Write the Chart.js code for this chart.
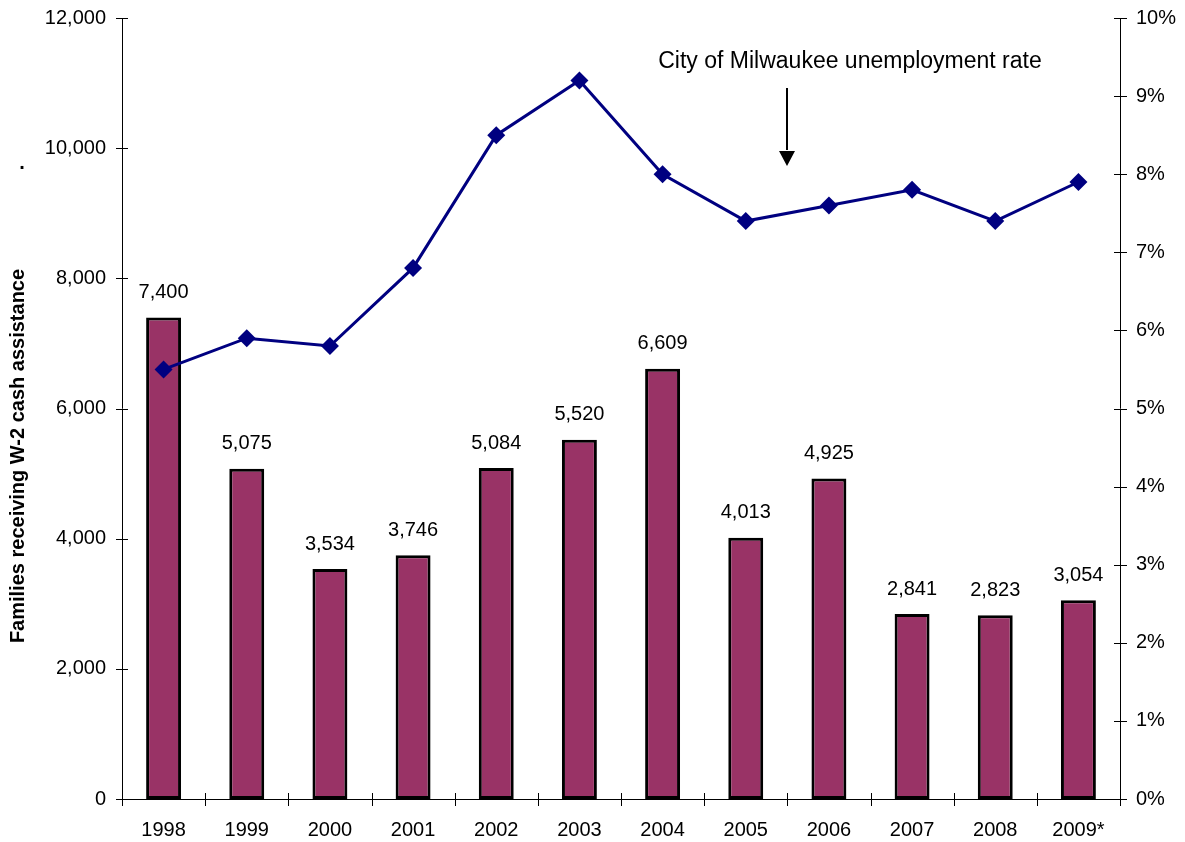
<!DOCTYPE html>
<html>
<head>
<meta charset="utf-8">
<script src="https://cdn.jsdelivr.net/npm/chart.js@4"></script>
<style>
  html, body { margin: 0; padding: 0; background: #fff; }
  #wrap { width: 1185px; height: 842px; position: relative; }
</style>
</head>
<body>
<div id="wrap"><canvas id="w2Chart" width="1185" height="842"></canvas></div>
<script>
// data
const years = ['1998', '1999', '2000', '2001', '2002', '2003', '2004', '2005', '2006', '2007', '2008', '2009*'];
const families = [7400, 5075, 3534, 3746, 5084, 5520, 6609, 4013, 4925, 2841, 2823, 3054];
const unemployment = [5.5, 5.9, 5.8, 6.8, 8.5, 9.2, 8.0, 7.4, 7.6, 7.8, 7.4, 7.9];
const leftTicks = [0, 2000, 4000, 6000, 8000, 10000, 12000];
const rightTicks = [0, 1, 2, 3, 4, 5, 6, 7, 8, 9, 10];

const FONT = 'Arial, "Liberation Sans", sans-serif';

// axis lines with ticks crossing them, bar value labels and the annotation
const decorations = {
    id: 'decorations',
    afterDatasetsDraw(chart) {
        const ctx = chart.ctx;
        const area = chart.chartArea;
        const yL = chart.scales.y;
        const yR = chart.scales.y1;

        ctx.save();
        ctx.strokeStyle = '#000';
        ctx.lineWidth = 1;
        ctx.beginPath();
        // left axis
        ctx.moveTo(area.left + 0.5, area.top);
        ctx.lineTo(area.left + 0.5, area.bottom);
        leftTicks.forEach(v => {
            const py = Math.round(yL.getPixelForValue(v)) + 0.5;
            ctx.moveTo(area.left - 6, py);
            ctx.lineTo(area.left + 6, py);
        });
        // right axis
        ctx.moveTo(area.right + 0.5, area.top);
        ctx.lineTo(area.right + 0.5, area.bottom);
        rightTicks.forEach(v => {
            const py = Math.round(yR.getPixelForValue(v)) + 0.5;
            ctx.moveTo(area.right - 6, py);
            ctx.lineTo(area.right + 7, py);
        });
        // bottom axis
        ctx.moveTo(area.left, area.bottom + 0.5);
        ctx.lineTo(area.right, area.bottom + 0.5);
        const step = (area.right - area.left) / years.length;
        for (let i = 0; i <= years.length; i++) {
            const px = Math.round(area.left + i * step) + 0.5;
            ctx.moveTo(px, area.bottom - 6);
            ctx.lineTo(px, area.bottom + 7);
        }
        ctx.stroke();

        // bar value labels
        ctx.fillStyle = '#000';
        ctx.font = '20px ' + FONT;
        ctx.textAlign = 'center';
        ctx.textBaseline = 'middle';
        chart.getDatasetMeta(1).data.forEach((bar, i) => {
            ctx.fillText(families[i].toLocaleString('en-US'), bar.x, bar.y - 25);
        });

        // annotation text and arrow
        ctx.font = '23px ' + FONT;
        ctx.fillText('City of Milwaukee unemployment rate', 850, 62);
        ctx.lineWidth = 2;
        ctx.beginPath();
        ctx.moveTo(787, 88);
        ctx.lineTo(787, 150);
        ctx.stroke();
        ctx.beginPath();
        ctx.moveTo(779, 151);
        ctx.lineTo(795, 151);
        ctx.lineTo(787, 166);
        ctx.closePath();
        ctx.fill();

        // y axis title
        ctx.font = 'bold 20px ' + FONT;
        ctx.save();
        ctx.translate(18, 456);
        ctx.rotate(-Math.PI / 2);
        ctx.fillText('Families receiving W-2 cash assistance', 0, 0);
        ctx.restore();
        ctx.fillText('.', 22, 163);
        ctx.restore();
    }
};

new Chart(document.getElementById('w2Chart'), {
    data: {
        labels: years,
        datasets: [{
            type: 'line',
            label: 'Unemployment rate',
            data: unemployment,
            yAxisID: 'y1',
            borderColor: '#000080',
            backgroundColor: '#000080',
            borderWidth: 3,
            pointStyle: 'rectRot',
            pointRadius: 9,
            pointBorderWidth: 0,
            tension: 0,
            order: 0
        }, {
            type: 'bar',
            label: 'Families',
            data: families,
            yAxisID: 'y',
            backgroundColor: '#993366',
            borderColor: '#000',
            borderWidth: 3,
            borderSkipped: false,
            categoryPercentage: 1,
            barPercentage: 0.42,
            order: 1
        }]
    },
    options: {
        responsive: false,
        animation: false,
        devicePixelRatio: 1,
        layout: { padding: { top: 18, left: 0, right: 0, bottom: 0 } },
        plugins: {
            legend: { display: false },
            tooltip: { enabled: false }
        },
        scales: {
            x: {
                grid: { display: false, drawTicks: false },
                border: { display: false },
                ticks: { color: '#000', font: { size: 20, family: FONT }, padding: 19, maxRotation: 0, autoSkip: false },
                afterFit(scale) {
                    scale.height = 43;
                    scale.paddingLeft = 0;
                    scale.paddingRight = 0;
                }
            },
            y: {
                position: 'left',
                min: 0,
                max: 12000,
                grid: { display: false, drawTicks: false },
                border: { display: false },
                afterBuildTicks(scale) { scale.ticks = leftTicks.map(v => ({ value: v })); },
                ticks: {
                    autoSkip: false,
                    color: '#000',
                    padding: 16,
                    font: { size: 20, family: FONT },
                    callback: v => v.toLocaleString('en-US')
                },
                afterFit(scale) {
                    scale.width = 122;
                    scale.paddingTop = 0;
                    scale.paddingBottom = 0;
                }
            },
            y1: {
                position: 'right',
                min: 0,
                max: 10,
                grid: { display: false, drawTicks: false },
                border: { display: false },
                afterBuildTicks(scale) { scale.ticks = rightTicks.map(v => ({ value: v })); },
                ticks: {
                    autoSkip: false,
                    color: '#000',
                    padding: 16,
                    font: { size: 20, family: FONT },
                    callback: v => v + '%'
                },
                afterFit(scale) {
                    scale.width = 65;
                    scale.paddingTop = 0;
                    scale.paddingBottom = 0;
                }
            }
        }
    },
    plugins: [decorations]
});
</script>
</body>
</html>
